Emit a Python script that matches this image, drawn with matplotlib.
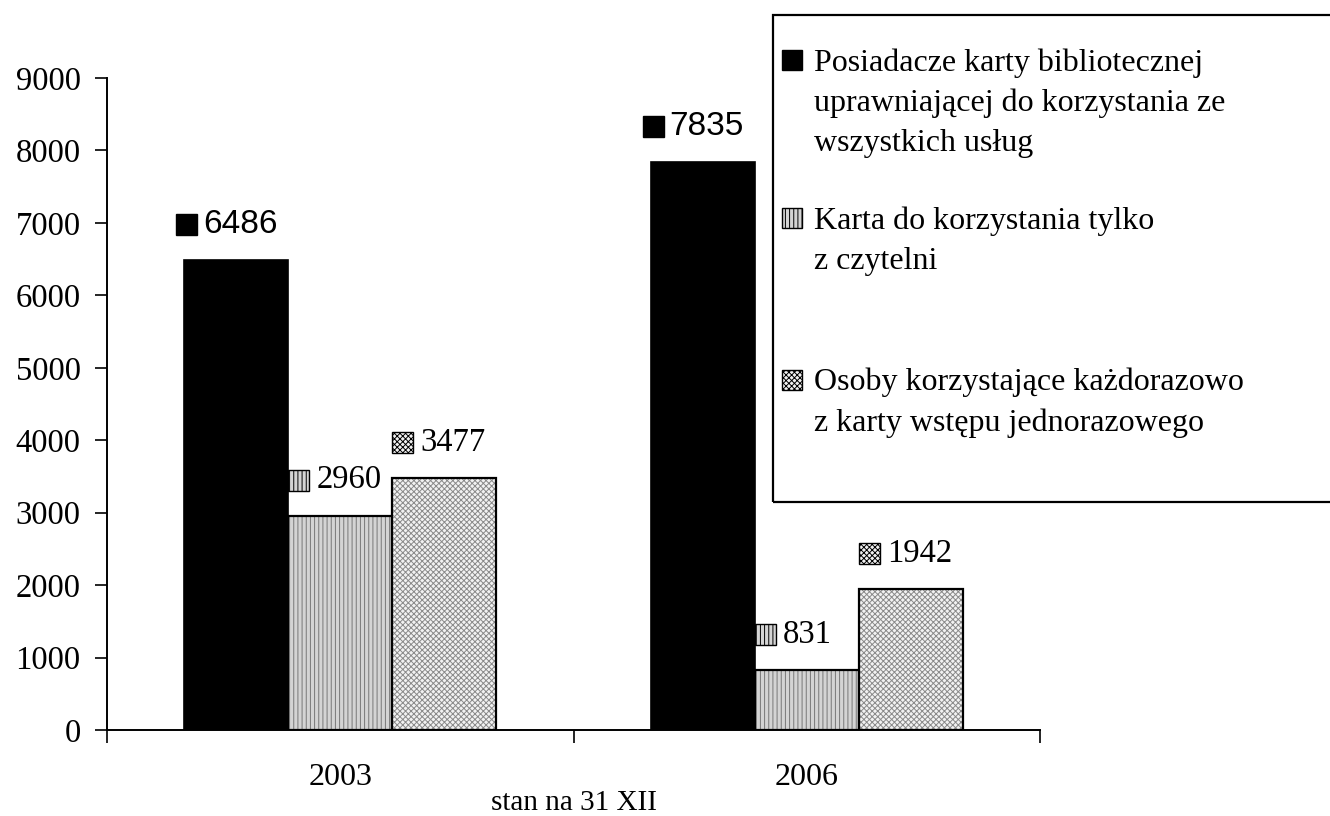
import matplotlib.pyplot as plt
import matplotlib.patches as mpatches
import numpy as np

plt.rcParams['font.family'] = ['Liberation Serif', 'DejaVu Serif']
plt.rcParams['hatch.linewidth'] = 0.7

# dane
years = ['2003', '2006']
posiadacze = [6486, 7835]
czytelnia = [2960, 831]
jednorazowe = [3477, 1942]
series_labels = ['Posiadacze karty bibliotecznej\nuprawniającej do korzystania ze\nwszystkich usług',
                 'Karta do korzystania tylko\nz czytelni',
                 'Osoby korzystające każdorazowo\nz karty wstępu jednorazowego']
xlabel = 'stan na 31 XII'

# style serii: (kolor wypelnienia, wzor, kolor wzoru)
styles = [('black', None, 'black'),
          ('#d4d4d4', '||||', '#777777'),
          ('#f2f2f2', 'xxxxxx', '#8a8a8a')]

fig = plt.figure(figsize=(13.3, 8.16), dpi=100)
ax = fig.add_axes([0.0805, 0.1054, 0.7015, 0.799])

x = np.arange(len(years))
bw = 0.223
data = [posiadacze, czytelnia, jednorazowe]

for i, vals in enumerate(data):
    fc, hatch, hc = styles[i]
    pos = x + (i - 1) * bw
    if hatch:
        ax.bar(pos, vals, width=bw, color=fc, hatch=hatch, edgecolor=hc, linewidth=0)
        ax.bar(pos, vals, width=bw, fill=False, edgecolor='black', linewidth=1.6)
    else:
        ax.bar(pos, vals, width=bw, color=fc, edgecolor='black', linewidth=1.2)
    # etykiety z kwadracikiem
    sq_w = 0.045
    sq_h = 290
    for p, v in zip(pos, vals):
        left = p - bw / 2 + (-0.017 if i == 0 else 0.0)
        bottom = v + 345
        r = mpatches.Rectangle((left, bottom), sq_w, sq_h, facecolor=fc,
                               hatch=hatch, edgecolor='black', linewidth=1.0,
                               clip_on=False)
        ax.add_patch(r)
        if i == 0:
            ax.text(left + sq_w + 0.012, bottom + sq_h / 2, str(v),
                    family=['Liberation Sans', 'DejaVu Sans'], fontsize=24,
                    va='center', ha='left')
        else:
            ax.text(left + sq_w + 0.015, bottom + sq_h / 2, str(v),
                    fontsize=23.5, va='center', ha='left')

ax.set_xlim(-0.5, 1.5)
ax.set_ylim(0, 9000)
ax.set_yticks(np.arange(0, 9001, 1000))
ax.set_xticks([-0.5, 0.5, 1.5])
ax.set_xticklabels([])
ax.tick_params(axis='x', direction='out', length=9, width=1.2)
ax.tick_params(axis='y', direction='out', length=9, width=1.2, labelsize=23.5, pad=10)
for s in ['top', 'right']:
    ax.spines[s].set_visible(False)
for s in ['left', 'bottom']:
    ax.spines[s].set_linewidth(1.4)
for xi, y in zip(x, years):
    ax.text(xi, -0.073, y, transform=ax.get_xaxis_transform(), ha='center', va='center', fontsize=23)
ax.text(0.5, -0.112, xlabel, transform=ax.get_xaxis_transform(), ha='center', va='center', fontsize=21)

# legenda rysowana recznie
fig.patches.append(mpatches.Rectangle((773 / 1330, 1 - 502 / 816), 0.5, 487 / 816,
                                      transform=fig.transFigure, fill=False,
                                      edgecolor='black', linewidth=1.6))
leg_y = [60, 218, 380]
for i, (lab, y) in enumerate(zip(series_labels, leg_y)):
    fc, hatch, hc = styles[i]
    fig.patches.append(mpatches.Rectangle((782 / 1330, 1 - (y + 10) / 816), 20 / 1330, 20 / 816,
                                          transform=fig.transFigure, facecolor=fc,
                                          hatch=hatch, edgecolor='black', linewidth=1.0))
    fig.text(814 / 1330, 1 - (y - 12) / 816, lab, ha='left', va='top', fontsize=23,
             linespacing=1.5)

fig.savefig('out.png', dpi=100)
